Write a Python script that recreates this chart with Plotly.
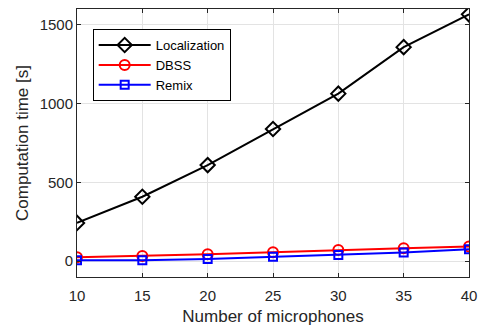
import plotly.graph_objects as go

mics = [10, 15, 20, 25, 30, 35, 40]
localization = [243, 409, 610, 839, 1063, 1358, 1566]
dbss = [25, 33, 44, 57, 72, 83, 93]
remix = [6, 6, 14, 28, 40, 55, 76]

x_ticks = [10, 15, 20, 25, 30, 35, 40]
y_ticks = [0, 500, 1000, 1500]

FONT = "Liberation Sans, Arial"
TXT = "#262626"

fig = go.Figure()
fig.add_trace(go.Scatter(x=mics, y=localization, name="Localization", mode="lines+markers",
                         line=dict(color="black", width=2),
                         marker=dict(symbol="diamond-open", size=11, color="black", line=dict(width=2))))
fig.add_trace(go.Scatter(x=mics, y=dbss, name="DBSS", mode="lines+markers",
                         line=dict(color="red", width=2),
                         marker=dict(symbol="circle-open", size=10, color="red", line=dict(width=2))))
fig.add_trace(go.Scatter(x=mics, y=remix, name="Remix", mode="lines+markers",
                         line=dict(color="blue", width=2),
                         marker=dict(symbol="square-open", size=8, color="blue", line=dict(width=2))))

axis_common = dict(showline=True, linecolor=TXT, linewidth=1, mirror="ticks",
                   ticks="inside", ticklen=4, tickcolor=TXT, automargin=False,
                   showgrid=True, gridcolor="#e3e3e3", gridwidth=1, zeroline=False,
                   tickfont=dict(family=FONT, size=15, color=TXT))

fig.update_xaxes(range=[10, 40], tickvals=x_ticks, ticklabelstandoff=5,
                 title=dict(text="Number of microphones", standoff=11,
                            font=dict(family=FONT, size=17, color=TXT)),
                 **axis_common)
fig.update_yaxes(range=[-100, 1600], tickvals=y_ticks,
                 title=dict(text="Computation time [s]", standoff=6,
                            font=dict(family=FONT, size=17, color=TXT)),
                 **axis_common)

fig.update_layout(
    width=478, height=326,
    margin=dict(l=77, r=9, t=9, b=49),
    paper_bgcolor="white", plot_bgcolor="white",
    showlegend=True,
    legend=dict(x=0.04, y=0.925, xanchor="left", yanchor="top",
                bgcolor="white", bordercolor="black", borderwidth=1,
                font=dict(family=FONT, size=13, color="black"),
                itemwidth=52, tracegroupgap=0),
)

fig.write_html("out.html")
